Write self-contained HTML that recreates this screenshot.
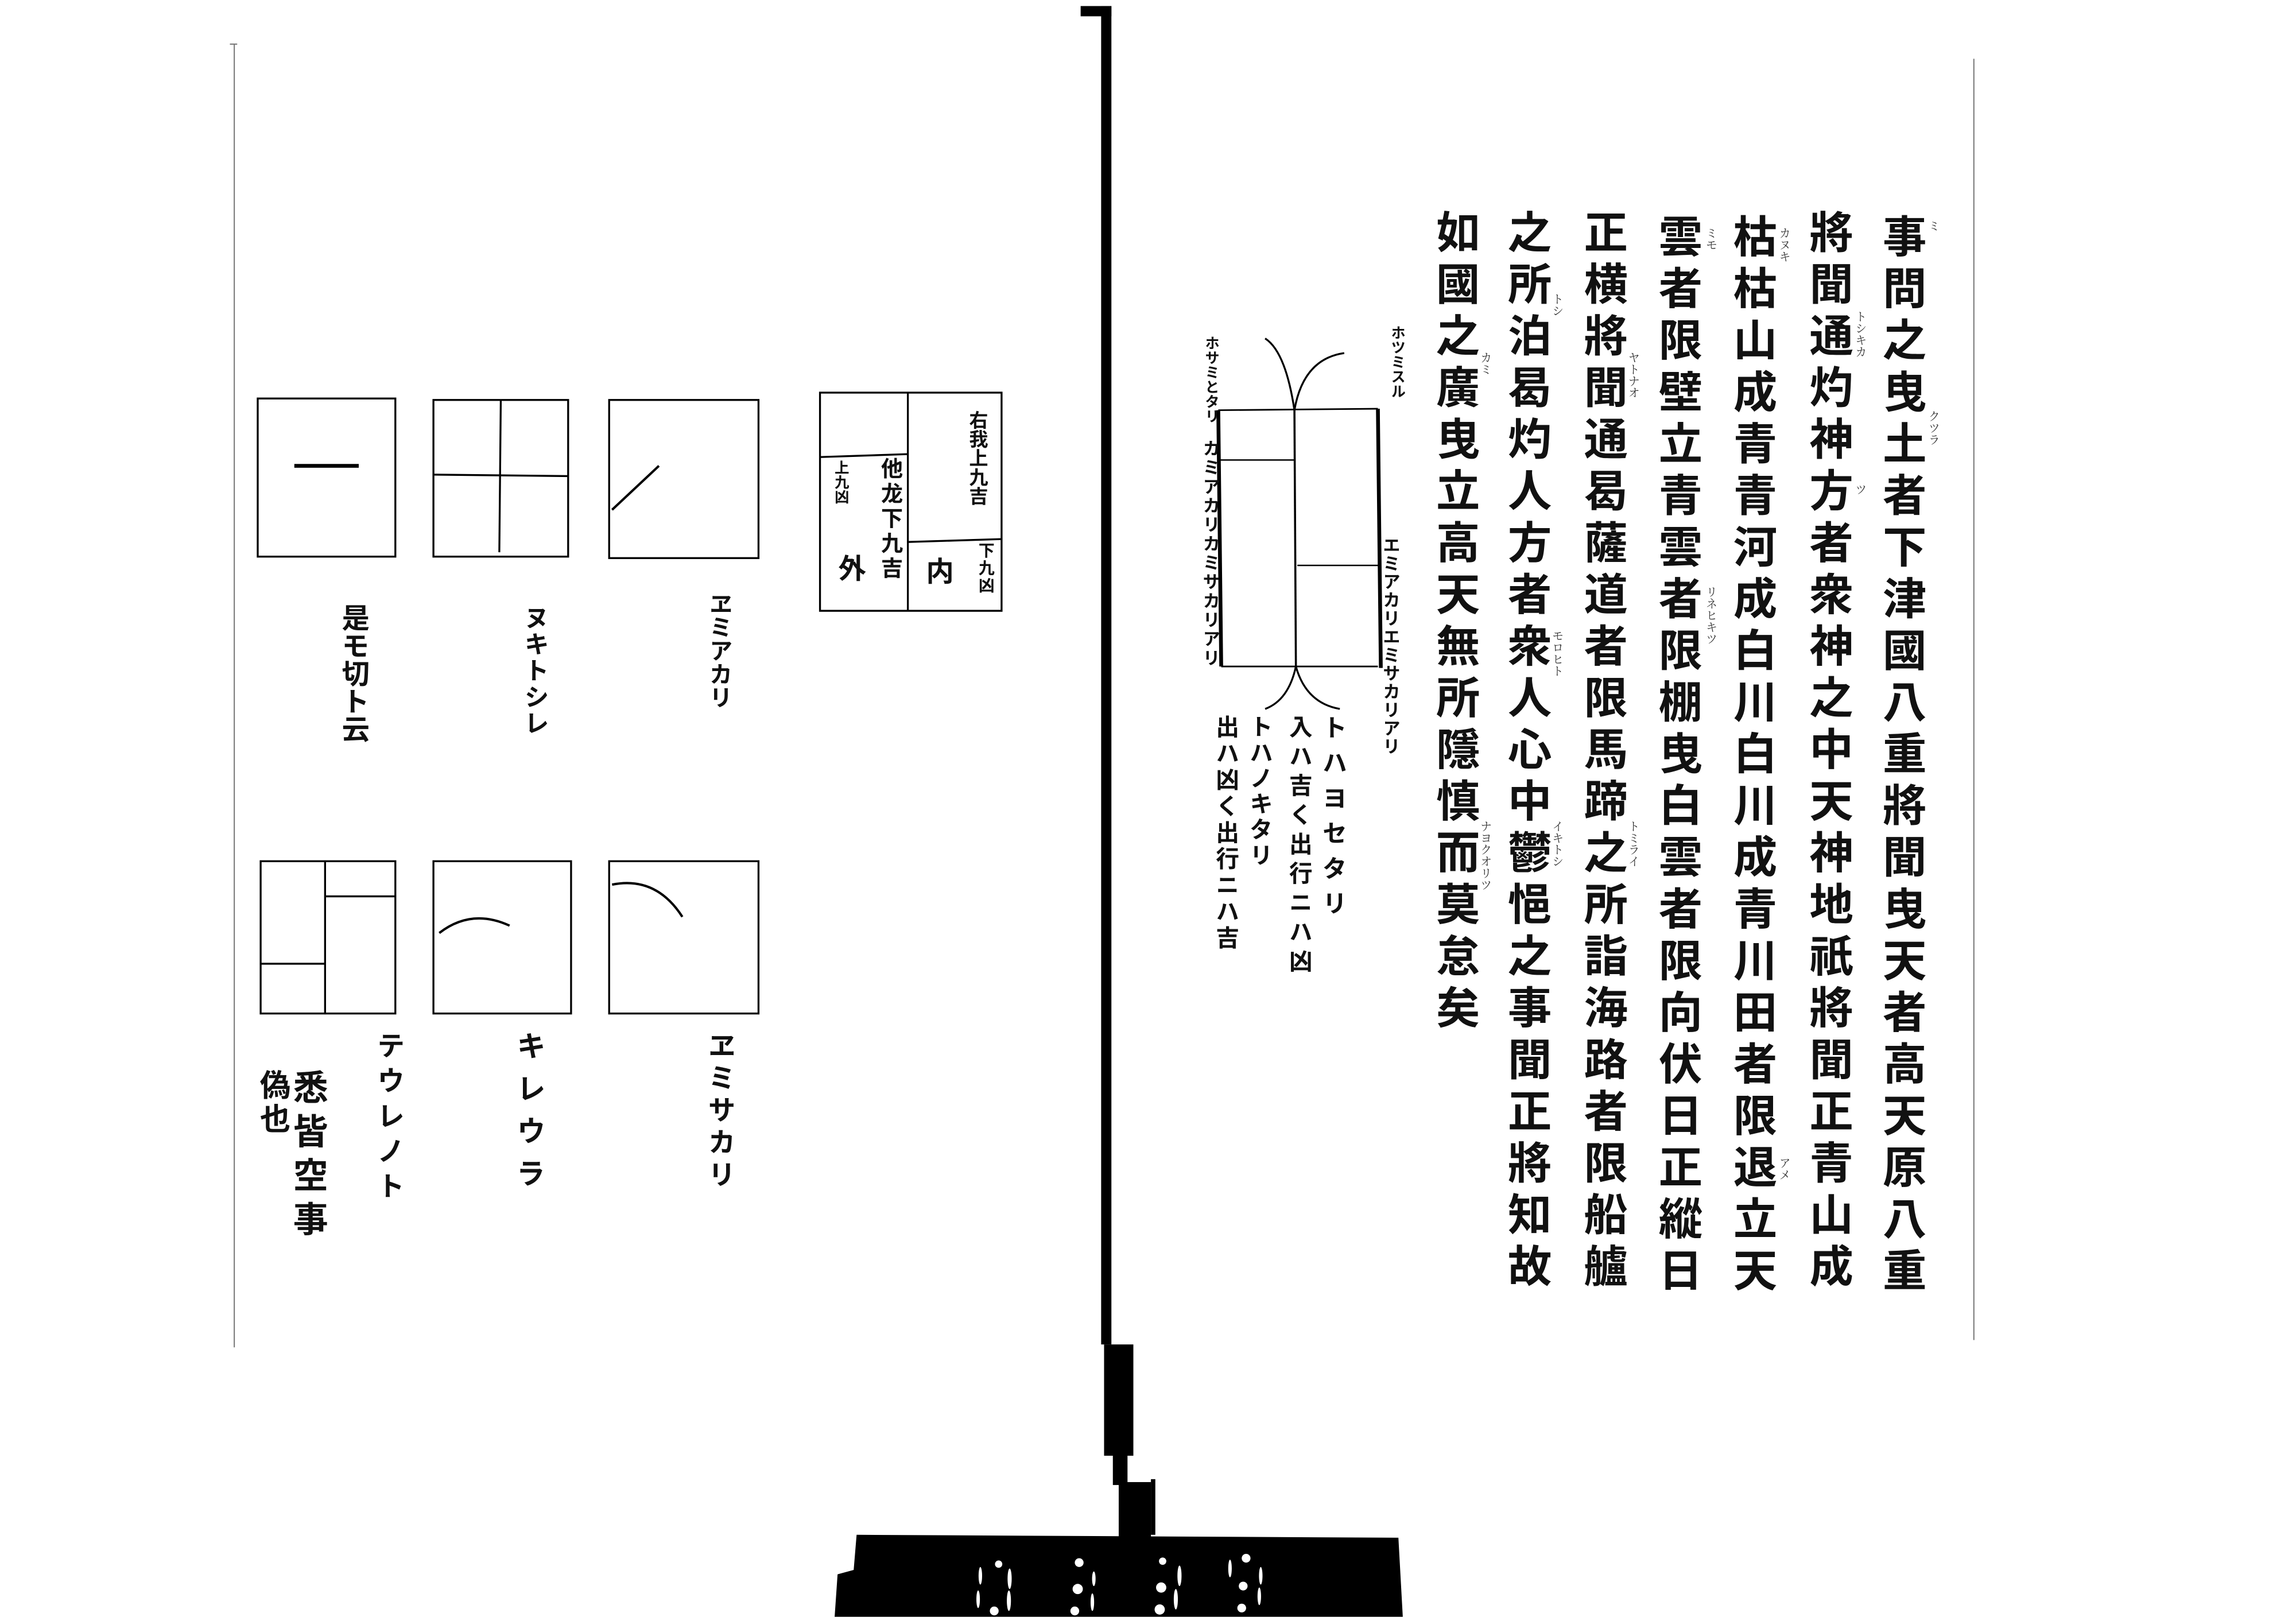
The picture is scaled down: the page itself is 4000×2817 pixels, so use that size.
<!DOCTYPE html>
<html><head><meta charset="utf-8">
<style>
html,body{margin:0;padding:0;background:#fff;}
svg{display:block;}
text{font-family:"Liberation Serif","Noto Serif CJK SC","Noto Sans CJK JP",serif;fill:#111;writing-mode:vertical-rl;}
.m{font-family:"Liberation Sans","Noto Sans CJK JP",sans-serif;font-weight:700;}
</style></head>
<body>
<svg width="4000" height="2817" viewBox="0 0 1568 1104" xmlns="http://www.w3.org/2000/svg">
<rect x="0" y="0" width="1568" height="1104" fill="#fff"/>

<line x1="160" y1="30" x2="160" y2="920" stroke="#777" stroke-width="0.8"/>
<line x1="157" y1="30" x2="162" y2="30" stroke="#777" stroke-width="0.8"/>
<line x1="1348" y1="40" x2="1348" y2="915" stroke="#777" stroke-width="0.8"/>

<rect x="738" y="4" width="21" height="7" fill="#000"/>
<rect x="752" y="4" width="7" height="914" fill="#000"/>
<rect x="754" y="918" width="20" height="76" fill="#000"/>
<rect x="760" y="990" width="10" height="24" fill="#000"/>
<rect x="764" y="1012" width="22" height="38" fill="#000"/>
<rect x="786" y="1010" width="3" height="38" fill="#000"/>
<path d="M585 1048 L955 1050 L958 1104 L570 1104 L572 1075 L583 1072 Z" fill="#000"/>
<g fill="#fff">
<circle cx="682" cy="1068" r="2.5"/><circle cx="737" cy="1067" r="3"/><circle cx="794" cy="1066" r="2.5"/><circle cx="851" cy="1064" r="3"/>
<circle cx="736" cy="1085" r="3.5"/><circle cx="793" cy="1084" r="3.5"/><circle cx="849" cy="1083" r="3"/>
<circle cx="679" cy="1100" r="3"/><circle cx="734" cy="1100" r="3"/><circle cx="792" cy="1099" r="3.5"/><circle cx="848" cy="1098" r="3"/>
<ellipse cx="669.5" cy="1076" rx="1.2" ry="6"/><ellipse cx="689.5" cy="1078" rx="1.4" ry="7"/><ellipse cx="747" cy="1078" rx="1.2" ry="5"/><ellipse cx="805.5" cy="1076" rx="1.4" ry="7"/><ellipse cx="840" cy="1071" rx="1.2" ry="6"/><ellipse cx="861" cy="1076" rx="1.2" ry="6"/>
<ellipse cx="668" cy="1092" rx="1.2" ry="6"/><ellipse cx="689" cy="1093" rx="1.4" ry="7"/><ellipse cx="746" cy="1094" rx="1.2" ry="6"/><ellipse cx="803" cy="1092" rx="1.4" ry="7"/><ellipse cx="860" cy="1090" rx="1.2" ry="6"/>
</g>

<g fill="none" stroke="#000" stroke-width="1.3">
<rect x="176" y="272" width="94" height="108"/>
<rect x="296" y="273" width="92" height="107"/>
<line x1="342" y1="273" x2="341" y2="377"/><line x1="296" y1="324" x2="388" y2="325"/>
<rect x="416" y="273" width="102" height="108"/>
<line x1="418" y1="348" x2="450" y2="318" stroke-width="1.6"/>
<rect x="560" y="268" width="124" height="149"/>
<line x1="620" y1="268" x2="620" y2="417"/>
<line x1="560" y1="312" x2="620" y2="310"/>
<line x1="620" y1="370" x2="684" y2="368"/>

<rect x="178" y="588" width="92" height="104"/>
<line x1="222" y1="588" x2="222" y2="692"/>
<line x1="178" y1="658" x2="222" y2="658"/>
<line x1="222" y1="612" x2="270" y2="612"/>
<rect x="296" y="588" width="94" height="104"/>
<path d="M300 637 Q322 620 348 632" stroke-width="1.6"/>
<rect x="416" y="588" width="102" height="104"/>
<path d="M418 604 Q448 598 466 626" stroke-width="1.6"/>
</g>
<line x1="201" y1="318" x2="245" y2="318" stroke="#000" stroke-width="2.6"/>

<text class="m" x="667" y="280" font-size="13" letter-spacing="0">右我上九吉</text>
<text class="m" x="608" y="312" font-size="15" letter-spacing="2">他龙下九吉</text>
<text class="m" x="574" y="314" font-size="10">上九凶</text>
<text class="m" x="580" y="378" font-size="19">外</text>
<text class="m" x="640" y="380" font-size="19">内</text>
<text class="m" x="673" y="370" font-size="11" letter-spacing="1">下九凶</text>

<text class="m" x="241" y="412" font-size="19" letter-spacing="0">是モ切ト云</text>
<text class="m" x="365" y="413" font-size="17" letter-spacing="1">ヌキトシレ</text>
<text class="m" x="491" y="404" font-size="16" letter-spacing="0">ヱミアカリ</text>
<text class="m" x="265" y="704" font-size="19" letter-spacing="5">テウレノト</text>
<text class="m" x="361" y="704" font-size="20" letter-spacing="9">キレウラ</text>
<text class="m" x="491" y="704" font-size="19" letter-spacing="3">ヱミサカリ</text>
<text class="m" x="210" y="730" font-size="24" letter-spacing="6">悉皆空事</text>
<text class="m" x="186" y="730" font-size="21" letter-spacing="2">偽也</text>

<g fill="none" stroke="#000">
<line x1="832" y1="280" x2="941" y2="279" stroke-width="1.1"/>
<line x1="834" y1="455" x2="941" y2="455" stroke-width="1.1"/>
<line x1="832" y1="280" x2="834" y2="455" stroke-width="2.6"/>
<line x1="941" y1="279" x2="943" y2="456" stroke-width="2.6"/>
<line x1="884" y1="280" x2="885" y2="455" stroke-width="1.4"/>
<line x1="833" y1="314" x2="884" y2="314" stroke-width="1"/>
<line x1="886" y1="386" x2="941" y2="386" stroke-width="1"/>
<path d="M884 280 Q878 240 864 231" stroke-width="1.3"/>
<path d="M884 280 Q890 245 918 241" stroke-width="1.3"/>
<path d="M885 455 Q880 478 864 484" stroke-width="1.3"/>
<path d="M885 455 Q892 480 915 484" stroke-width="1.3"/>
</g>
<text class="m" x="827" y="229" font-size="10" letter-spacing="0">ホサミとタリ</text>
<text class="m" x="954" y="222" font-size="10" letter-spacing="0">ホツミスル</text>
<text class="m" x="826" y="300" font-size="12" letter-spacing="1">カミアカリカミサカリアリ</text>
<text class="m" x="949" y="366" font-size="12" letter-spacing="0.5">エミアカリエミサカリアリ</text>
<text class="m" x="910" y="488" font-size="17" letter-spacing="7">トハヨセタリ</text>
<text class="m" x="887" y="488" font-size="16" letter-spacing="4">入ハ吉く出行ニハ凶</text>
<text class="m" x="860" y="488" font-size="16" letter-spacing="1.5">トハノキタリ</text>
<text class="m" x="837" y="488" font-size="16" letter-spacing="2">出ハ凶く出行ニハ吉</text>

<g class="m" font-size="30" letter-spacing="5.3">
<text class="m" x="1298" y="146">事問之曳土者下津國八重將聞曳天者高天原八重</text>
<text class="m" x="1248" y="143">將聞通灼神方者衆神之中天神地祇將聞正青山成</text>
<text class="m" x="1196" y="146">枯枯山成青青河成白川白川成青川田者限退立天</text>
<text class="m" x="1145" y="146">雲者限壁立青雲者限棚曳白雲者限向伏日正縱日</text>
<text class="m" x="1094" y="143">正横將聞通曷薩道者限馬蹄之所詣海路者限船艫</text>
<text class="m" x="1042" y="143">之所泊曷灼人方者衆人心中鬱悒之事聞正將知故</text>
<text class="m" x="993" y="143">如國之廣曳立高天無所隱慎而莫怠矣</text>
</g>
<g font-size="8" fill="#333">
<text x="1320" y="150" style="fill:#333">ミ</text>
<text x="1320" y="280" style="fill:#333">クツラ</text>
<text x="1270" y="212" style="fill:#333">トシキカ</text>
<text x="1270" y="330" style="fill:#333">ツ</text>
<text x="1218" y="155" style="fill:#333">カヌキ</text>
<text x="1218" y="790" style="fill:#333">アメ</text>
<text x="1168" y="155" style="fill:#333">ミモ</text>
<text x="1168" y="400" style="fill:#333">リネヒキツ</text>
<text x="1115" y="240" style="fill:#333">ヤトナオ</text>
<text x="1115" y="560" style="fill:#333">トミライ</text>
<text x="1063" y="200" style="fill:#333">トシ</text>
<text x="1063" y="430" style="fill:#333">モロヒト</text>
<text x="1063" y="560" style="fill:#333">イキトシ</text>
<text x="1014" y="240" style="fill:#333">カミ</text>
<text x="1014" y="560" style="fill:#333">ナヨクオリツ</text>
</g>
</svg>
</body></html>
